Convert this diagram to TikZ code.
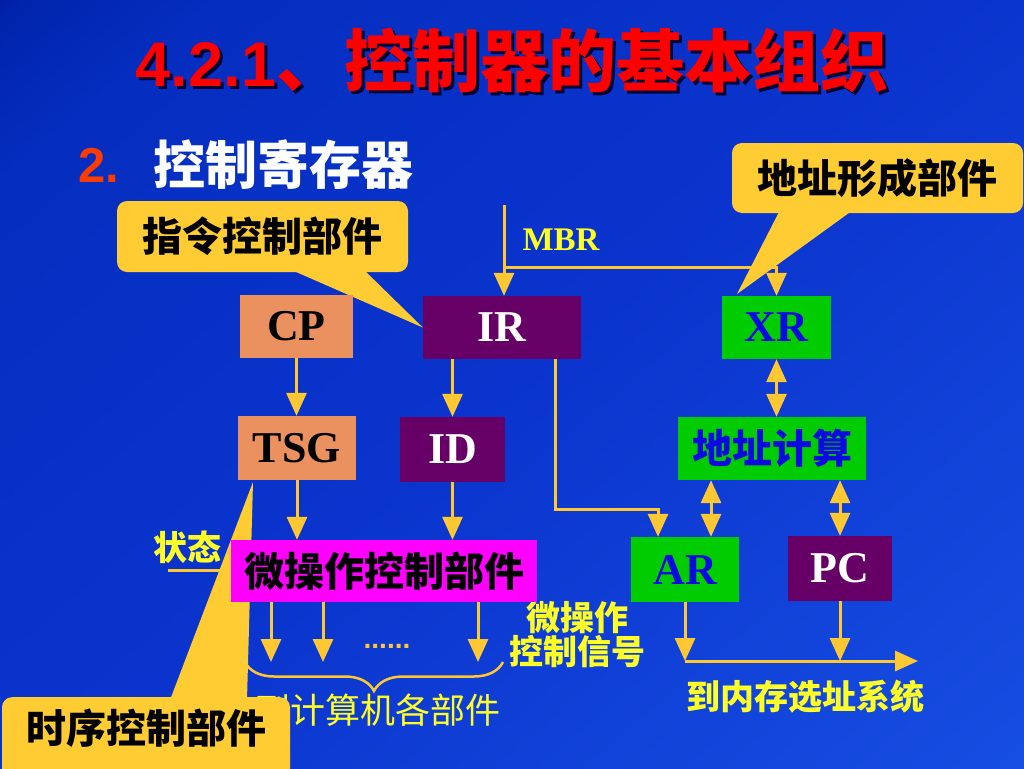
\documentclass[tikz,border=0pt]{standalone}
\usepackage{fontspec}
\setmainfont{Liberation Serif}
\newfontfamily\cjk{Noto Sans CJK SC}
\newfontfamily\arial{Liberation Sans}
\usetikzlibrary{arrows.meta,decorations.pathreplacing}
\definecolor{bgA}{RGB}{0,0,100}
\definecolor{bgA2}{RGB}{0,10,132}
\definecolor{bgB}{RGB}{0,36,172}
\definecolor{bgB2}{RGB}{5,46,192}
\definecolor{bgC}{RGB}{10,52,205}
\definecolor{bgD}{RGB}{28,88,235}
\definecolor{arrowc}{RGB}{255,200,50}
\definecolor{callc}{RGB}{255,204,51}
\definecolor{labc}{RGB}{255,255,40}
\definecolor{salmon}{RGB}{234,145,95}
\definecolor{purp}{RGB}{102,0,102}
\definecolor{grn}{RGB}{0,204,0}
\definecolor{mag}{RGB}{255,0,255}
\definecolor{bluet}{RGB}{10,10,225}
\definecolor{titler}{RGB}{255,0,0}
\definecolor{shadowc}{RGB}{0,0,50}
\definecolor{orred}{RGB}{255,60,0}
\pgfdeclarehorizontalshading{bgshade}{100bp}{color(0bp)=(bgA); color(12bp)=(bgA2); color(15.5bp)=(bgB); color(23bp)=(bgB2); color(50bp)=(bgC); color(100bp)=(bgD)}
\pgfdeclarelayer{bglayer}
\pgfdeclarelayer{lines}
\pgfdeclarelayer{callouts}
\pgfsetlayers{bglayer,lines,callouts,main}
\tikzset{
  arr/.style={draw=arrowc, line width=3pt, -{Triangle[width=20pt,length=23pt]}},
  darr/.style={draw=arrowc, line width=3pt, {Triangle[width=20pt,length=23pt]}-{Triangle[width=20pt,length=23pt]}},
  plain/.style={draw=arrowc, line width=3pt},
  reg/.style={inner sep=0pt, font=\fontsize{44}{44}\selectfont\bfseries},
  cbox/.style={inner sep=0pt, font=\cjk\fontsize{40}{40}\selectfont\bfseries},
  callout/.style={fill=callc, rounded corners=10pt, inner sep=0pt, text=black, font=\cjk\fontsize{40}{40}\selectfont\bfseries},
  ylab/.style={text=labc, inner sep=0pt, font=\cjk\fontsize{34}{34}\selectfont\bfseries},
}
\begin{document}
\begin{tikzpicture}[x=1pt,y=-1pt]
\useasboundingbox (0,0) rectangle (1024,768);
\begin{pgfonlayer}{bglayer}
\shade[shading=bgshade, shading angle=-50] (0,0) rectangle (1024,768);
\end{pgfonlayer}
% title
\node[anchor=base, text=shadowc] (titles) at (515,89) {{\arial\bfseries\fontsize{63}{63}\selectfont 4.2.1}{\cjk\bfseries\fontsize{68}{68}\selectfont 、控制器的基本组织}};
\node[anchor=base, text=titler] (title) at (512,86) {{\arial\bfseries\fontsize{63}{63}\selectfont 4.2.1}{\cjk\bfseries\fontsize{68}{68}\selectfont 、控制器的基本组织}};
\node[inner sep=0pt, text=orred, font=\arial\bfseries\fontsize{49}{49}\selectfont] (num) at (99,165) {2.};
\node[inner sep=0pt, text=white, font=\cjk\bfseries\fontsize{52}{52}\selectfont] (sub) at (283,165) {控制寄存器};
% registers
\node[reg, fill=salmon, text=black, minimum width=113pt, minimum height=63pt] (CP) at (296.5,326.5) {CP};
\node[reg, fill=purp, text=white, minimum width=158pt, minimum height=63pt] (IR) at (502,327.5) {IR};
\node[reg, fill=grn, text=bluet, minimum width=109pt, minimum height=63pt] (XR) at (776.5,327.5) {XR};
\node[reg, fill=salmon, text=black, minimum width=118pt, minimum height=64pt] (TSG) at (297,448) {TSG};
\node[reg, fill=purp, text=white, minimum width=105pt, minimum height=65pt] (ID) at (452.5,449.5) {ID};
\node[cbox, fill=grn, text=bluet, minimum width=188pt, minimum height=63pt] (addr) at (772,448.5) {地址计算};
\node[cbox, fill=mag, text=black, minimum width=306pt, minimum height=62pt] (micro) at (384,571) {微操作控制部件};
\node[reg, fill=grn, text=bluet, minimum width=108pt, minimum height=65pt] (AR) at (685,569.5) {AR};
\node[reg, fill=purp, text=white, minimum width=104pt, minimum height=65pt] (PC) at (840,568.5) {PC};
% coordinates
\coordinate (mbrtop) at (504,205);
\coordinate (mbrj) at (504,267);
\coordinate (irar) at (555,509);
\coordinate (ar1) at ([xshift=-27pt]AR.north);
\coordinate (ar2) at ([xshift=26pt]AR.north);
\coordinate (o1) at (271,662);
\coordinate (o2) at (323,662);
\coordinate (o3) at (478,662);
\coordinate (busl) at (685,661);
\coordinate (busr) at (918,661);
\coordinate (st) at (168,570);
\coordinate (brl) at (245,662);
\coordinate (brr) at (503,662);
\begin{pgfonlayer}{lines}
\draw[arr] (mbrtop) -- (mbrtop |- IR.north);
\draw[arr] (mbrj) -| (XR.north);
\draw[arr] (CP.south) -- (CP.south |- TSG.north);
\draw[arr] (ID.north |- IR.south) -- (ID.north);
\draw[arr] (IR.south -| irar) -- (irar) -| (ar1);
\draw[darr] (XR.south) -- (XR.south |- addr.north);
\draw[darr] (ar2) -- (ar2 |- addr.south);
\draw[darr] (PC.north) -- (PC.north |- addr.south);
\draw[arr] (TSG.south) -- (TSG.south |- micro.north);
\draw[arr] (ID.south) -- (ID.south |- micro.north);
\draw[arr] (micro.south -| o1) -- (o1);
\draw[arr] (micro.south -| o2) -- (o2);
\draw[arr] (micro.south -| o3) -- (o3);
\draw[arr] (AR.south) -- (busl);
\draw[arr] (PC.south) -- (PC.south |- busl);
\draw[arr] (busl) -- (busr);
\draw[plain] (st) -- (st -| micro.west);
\draw[draw=arrowc, line width=2.5pt, decorate, decoration={brace, amplitude=29pt, mirror}] (brl) -- (brr);
\node[text=labc, inner sep=0pt, font=\fontsize{33}{33}\selectfont\bfseries] (mbr) at (561,240) {MBR};
\node[ylab] (state) at (187,547) {状态};
\node[ylab, align=center] (sig) at (577,635) {微操作\\控制信号};
\node[ylab] (mem) at (805,697) {到内存选址系统};
\node[text=labc, inner sep=0pt, font=\cjk\fontsize{35}{35}\selectfont] (allp) at (378,710) {到计算机各部件};
\node[anchor=base, text=arrowc, inner sep=0pt, font=\arial\bfseries\fontsize{28}{28}\selectfont] (dots) at (387,648) {......};
\end{pgfonlayer}
% callouts
\begin{pgfonlayer}{callouts}
\node[callout, minimum width=291pt, minimum height=71pt] (c1) at (262.5,236.5) {指令控制部件};
\fill[callc] (287,268) -- (IR.west) -- (362,268) -- cycle;
\node[callout, minimum width=291pt, minimum height=70pt] (c2) at (877.5,178) {地址形成部件};
\fill[callc] (780,210) -- (737,294) -- (853,210) -- cycle;
\node[callout, anchor=north, minimum width=288pt, text height=46pt, text depth=40pt] (c3) at (146,697) {时序控制部件};
\fill[callc] (170,700) -- (253,482) -- (247,700) -- cycle;
\end{pgfonlayer}
\end{tikzpicture}
\end{document}
